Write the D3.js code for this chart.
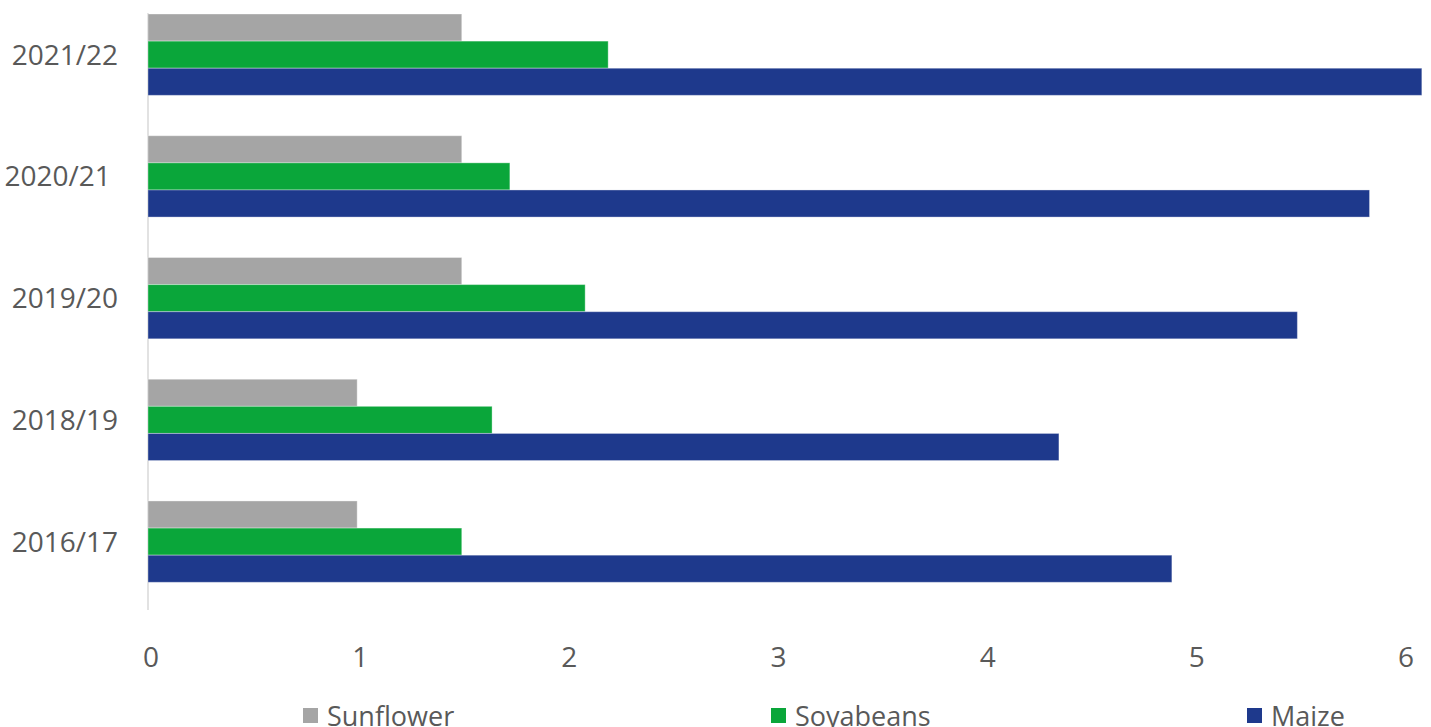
<!DOCTYPE html>
<html>
<head>
<meta charset="utf-8">
<script src="https://cdn.jsdelivr.net/npm/d3@7"></script>
<style>
  html, body { margin: 0; padding: 0; background: #fff; }
  svg { display: block; }
  text { font-family: "Open Sans", sans-serif; fill: #595959; white-space: pre; }
</style>
</head>
<body>
<svg id="chart" width="1431" height="727"></svg>
<script>
const categories = ["2021/22", "2020/21 ", "2019/20", "2018/19", "2016/17"];
const seriesNames = ["Sunflower", "Soyabeans", "Maize"];
const sunflower = [1.5, 1.5, 1.5, 1.0, 1.0];
const soyabeans = [2.2, 1.73, 2.09, 1.645, 1.5];
const maize = [6.09, 5.84, 5.495, 4.355, 4.895];
const xTicks = [0, 1, 2, 3, 4, 5, 6];
const colors = ["#A5A5A5", "#0AA63A", "#1E398C"];

const seriesValues = [sunflower, soyabeans, maize];
const svg = d3.select("#chart");

const x = d3.scaleLinear().domain([0, 6]).range([148, 1403]);
const y = d3.scaleBand().domain(categories).range([-6.2, 602.5])
  .paddingInner(0.332).paddingOuter(0.166);
const ySub = d3.scaleBand().domain(seriesNames).range([0, y.bandwidth()]);

// category axis line
svg.append("line")
  .attr("x1", x(0)).attr("x2", x(0))
  .attr("y1", 13).attr("y2", 610)
  .attr("stroke", "#D9D9D9").attr("stroke-width", 1.5);

// bars
const groups = svg.selectAll("g.cat").data(categories).join("g")
  .attr("class", "cat")
  .attr("transform", d => `translate(0,${y(d)})`);

groups.selectAll("rect").data((c, i) => seriesNames.map((s, j) => ({s, j, v: seriesValues[j][i]})))
  .join("rect")
  .attr("x", x(0))
  .attr("y", d => ySub(d.s))
  .attr("width", d => x(d.v) - x(0))
  .attr("height", ySub.bandwidth())
  .attr("fill", d => colors[d.j])
  .attr("stroke", "rgba(255,255,255,0.35)")
  .attr("stroke-width", 1);

// category labels
svg.selectAll("text.cat").data(categories).join("text")
  .attr("class", "cat")
  .attr("x", 118)
  .attr("y", d => y(d) + y.bandwidth() / 2 + 10)
  .attr("text-anchor", "end")
  .attr("font-size", 28)
  .text(d => d);

// x tick labels
svg.selectAll("text.xt").data(xTicks).join("text")
  .attr("class", "xt")
  .attr("x", d => x(d) + 3)
  .attr("y", 667)
  .attr("text-anchor", "middle")
  .attr("font-size", 28)
  .text(d => d);

// legend
const legendX = [303, 771, 1247];
const leg = svg.selectAll("g.leg").data(seriesNames).join("g")
  .attr("class", "leg")
  .attr("transform", (d, i) => `translate(${legendX[i]},0)`);
leg.append("rect")
  .attr("x", 0).attr("y", 708).attr("width", 15).attr("height", 15)
  .attr("fill", (d, i) => colors[i]);
leg.append("text")
  .attr("x", 24).attr("y", 726)
  .attr("font-size", 27)
  .text(d => d);
</script>
</body>
</html>
